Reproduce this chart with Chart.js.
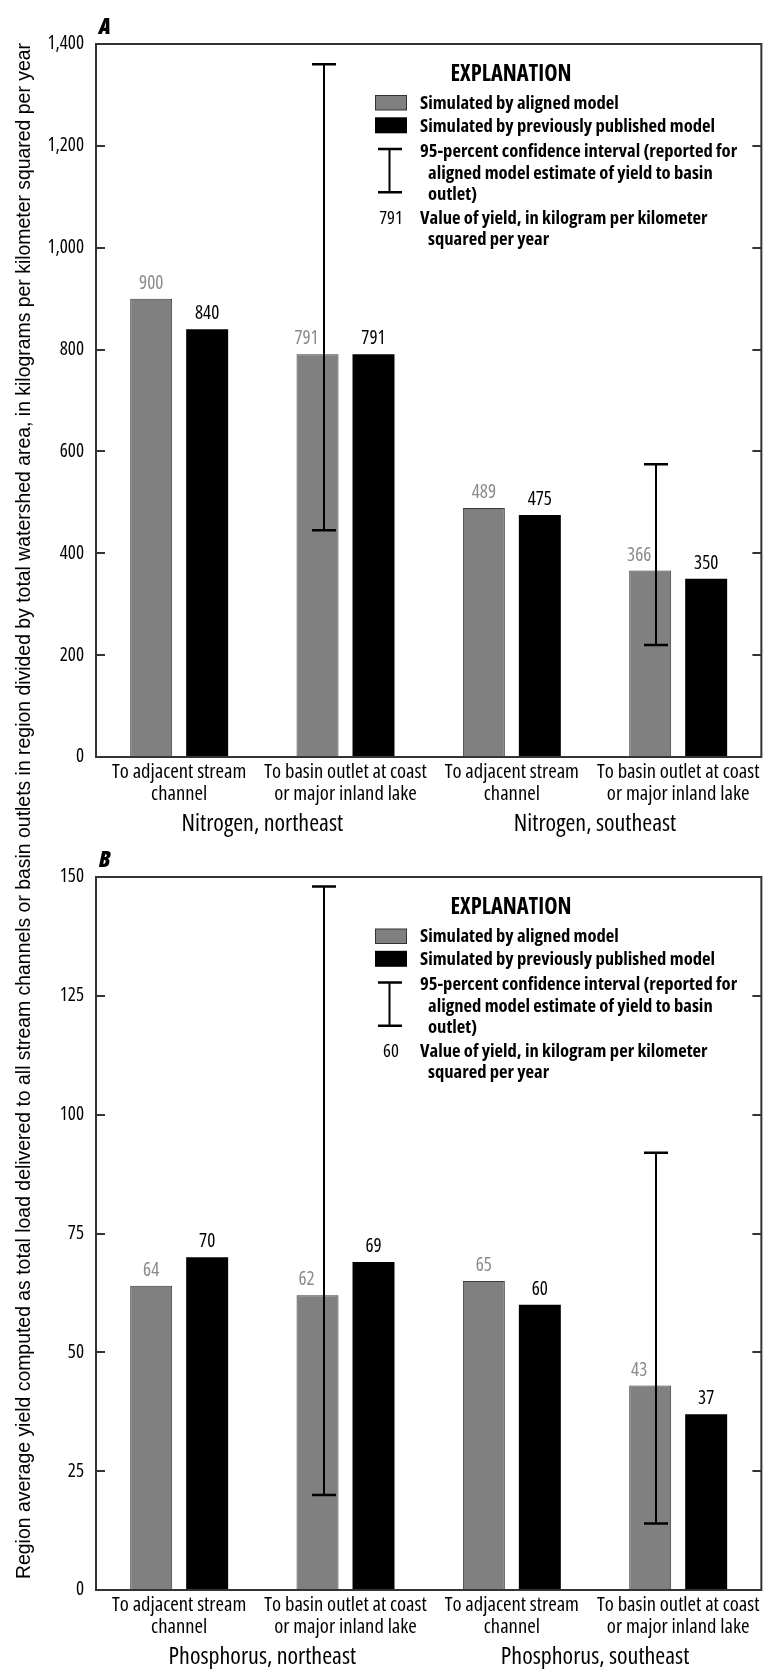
<!DOCTYPE html>
<html><head><meta charset="utf-8">
<script src="https://cdn.jsdelivr.net/npm/chart.js@4.4.1/dist/chart.umd.min.js"></script>
<style>
html,body{margin:0;padding:0;background:#fff;width:764px;height:1669px;overflow:hidden;}
body{position:relative;}
.panel{position:absolute;left:0;width:764px;height:840px;}
#panelA{top:0;}
#panelB{top:833px;}
canvas{display:block;}
#overlay{position:absolute;left:0;top:0;width:764px;height:1669px;pointer-events:none;}
#overlay text{font-family:'Open Sans',sans-serif;font-stretch:condensed;}
#overlay .title{font-family:'Liberation Sans',Arial,sans-serif;font-stretch:normal;}
</style></head>
<body>
<div class="panel" id="panelA"><canvas id="chartA" width="764" height="840"></canvas></div>
<div class="panel" id="panelB"><canvas id="chartB" width="764" height="840"></canvas></div>
<svg id="overlay" xmlns="http://www.w3.org/2000/svg" width="764" height="1669"></svg>
<script>
// ---- data ----
const categoryLabels = [
  ['To adjacent stream', 'channel'],
  ['To basin outlet at coast', 'or major inland lake'],
  ['To adjacent stream', 'channel'],
  ['To basin outlet at coast', 'or major inland lake']
];
const nitrogenGroups = ['Nitrogen, northeast', 'Nitrogen, southeast'];
const phosphorusGroups = ['Phosphorus, northeast', 'Phosphorus, southeast'];

const nitrogenAligned   = [900, 791, 489, 366];
const nitrogenPublished = [840, 791, 475, 350];
const nitrogenLower     = [null, 445, null, 220];
const nitrogenUpper     = [null, 1360, null, 575];
const nitrogenTicks     = [0, 200, 400, 600, 800, 1000, 1200, 1400];

const phosphorusAligned   = [64, 62, 65, 43];
const phosphorusPublished = [70, 69, 60, 37];
const phosphorusLower     = [null, 20, null, 14];
const phosphorusUpper     = [null, 148, null, 92];
const phosphorusTicks     = [0, 25, 50, 75, 100, 125, 150];

const legendEntries = [
  'Simulated by aligned model',
  'Simulated by previously published model',
  ['95-percent confidence interval (reported for', 'aligned model estimate of yield to basin', 'outlet)'],
  ['Value of yield, in kilogram per kilometer', 'squared per year']
];
const yTitle = 'Region average yield computed as total load delivered to all stream channels or basin outlets in region divided by total watershed area, in kilograms per kilometer squared per year';

// ---- styling ----
const FAMILY = "'Open Sans', sans-serif";
const COND = 'condensed 400';
const GRAY = '#808080';
const FRAME = '#333333';

// frame around the plot area with inward tick marks on both sides
const framePlugin = {
  id: 'frame',
  afterDraw(chart) {
    const {ctx, chartArea: a} = chart;
    const y = chart.scales.y;
    ctx.save();
    ctx.strokeStyle = FRAME;
    ctx.lineWidth = 2;
    ctx.strokeRect(a.left, a.top, a.right - a.left, a.bottom - a.top);
    ctx.beginPath();
    y.ticks.forEach(t => {
      if (t.value === y.min || t.value === y.max) return;
      const py = Math.round(y.getPixelForValue(t.value));
      ctx.moveTo(a.left, py); ctx.lineTo(a.left + 9, py);
      ctx.moveTo(a.right - 9, py); ctx.lineTo(a.right, py);
    });
    ctx.stroke();
    ctx.restore();
  }
};

// confidence intervals on the aligned-model bars
const errorBarPlugin = {
  id: 'errorBars',
  afterDatasetsDraw(chart, args, opts) {
    const {ctx} = chart;
    const y = chart.scales.y;
    const meta = chart.getDatasetMeta(0);
    ctx.save();
    ctx.strokeStyle = '#000';
    opts.lower.forEach((lo, i) => {
      const hi = opts.upper[i];
      if (lo == null || hi == null) return;
      const x = Math.round(meta.data[i].x + 6);
      const y1 = y.getPixelForValue(hi), y2 = y.getPixelForValue(lo);
      ctx.lineWidth = 2;
      ctx.beginPath(); ctx.moveTo(x, y1); ctx.lineTo(x, y2); ctx.stroke();
      ctx.lineWidth = 2.5;
      ctx.beginPath();
      ctx.moveTo(x - 12, y1); ctx.lineTo(x + 12, y1);
      ctx.moveTo(x - 12, y2); ctx.lineTo(x + 12, y2);
      ctx.stroke();
    });
    ctx.restore();
  }
};

// value labels above the bars
const valueLabelPlugin = {
  id: 'valueLabels',
  afterDatasetsDraw(chart, args, opts) {
    const {ctx} = chart;
    ctx.save();
    ctx.font = COND + ' 19px ' + FAMILY;
    ctx.textAlign = 'center';
    ctx.textBaseline = 'middle';
    chart.data.datasets.forEach((ds, di) => {
      const meta = chart.getDatasetMeta(di);
      ctx.fillStyle = di === 0 ? '#8a8a8a' : '#000';
      ds.data.forEach((v, i) => {
        const bar = meta.data[i];
        const shift = (di === 0 && opts.lower[i] != null) ? -11 : 0;
        ctx.fillText(String(v), bar.x + shift, bar.y - 15.5);
      });
    });
    ctx.restore();
  }
};

function makeChart(id, aligned, published, lower, upper, ticks, groups) {
  return new Chart(document.getElementById(id), {
    type: 'bar',
    data: {
      labels: categoryLabels,
      datasets: [
        {label: legendEntries[0], data: aligned, backgroundColor: GRAY, borderColor: '#3a3a3a',
         borderWidth: {top: 1, left: 1, right: 1, bottom: 0}, borderSkipped: false},
        {label: legendEntries[1], data: published, backgroundColor: '#000', borderWidth: 0}
      ]
    },
    options: {
      responsive: false,
      animation: false,
      devicePixelRatio: 1,
      categoryPercentage: 0.673,
      barPercentage: 0.75,
      layout: {padding: {top: 44, right: 1, left: 0, bottom: 0}},
      plugins: {
        legend: {display: false},
        tooltip: {enabled: false},
        errorBars: {lower, upper},
        valueLabels: {lower}
      },
      scales: {
        x: {
          type: 'category',
          weight: 0,
          grid: {display: false, drawTicks: false},
          border: {display: false},
          ticks: {color: '#000', padding: 4.5, maxRotation: 0, autoSkip: false,
                  font: {family: FAMILY, weight: COND, size: 20.6, lineHeight: 1.07}},
          afterFit(s) { s.height = 50; }
        },
        x2: {
          type: 'category',
          labels: groups,
          position: 'bottom',
          weight: 1,
          grid: {display: false, drawTicks: false},
          border: {display: false},
          ticks: {color: '#000', padding: 2.6, maxRotation: 0, autoSkip: false,
                  font: {family: FAMILY, weight: COND, size: 24, lineHeight: 1.2}},
          afterFit(s) { s.height = 33; }
        },
        y: {
          min: ticks[0],
          max: ticks[ticks.length - 1],
          grid: {display: false, drawTicks: false},
          border: {display: false},
          afterBuildTicks(s) { s.ticks = ticks.map(v => ({value: v})); },
          ticks: {color: '#000', padding: 12,
                  font: {family: FAMILY, weight: COND, size: 19},
                  callback: v => v.toLocaleString('en-US')},
          afterFit(s) { s.width = 96; }
        }
      }
    },
    plugins: [errorBarPlugin, valueLabelPlugin, framePlugin]
  });
}

makeChart('chartA', nitrogenAligned, nitrogenPublished, nitrogenLower, nitrogenUpper, nitrogenTicks, nitrogenGroups);
makeChart('chartB', phosphorusAligned, phosphorusPublished, phosphorusLower, phosphorusUpper, phosphorusTicks, phosphorusGroups);

// ---- shared axis title, panel letters and explanation boxes ----
const NS = 'http://www.w3.org/2000/svg';
const svg = document.getElementById('overlay');
function el(name, attrs, text) {
  const e = document.createElementNS(NS, name);
  for (const k in attrs) e.setAttribute(k, attrs[k]);
  if (text != null) e.textContent = text;
  svg.appendChild(e);
  return e;
}

el('text', {class: 'title', x: 0, y: 0, 'font-size': 19.5, 'text-anchor': 'middle',
  textLength: 1536, lengthAdjust: 'spacingAndGlyphs', fill: '#000',
  transform: 'translate(29.5,811) rotate(-90)'}, yTitle);

function panelLetter(letter, baseline) {
  el('text', {x: 99, y: baseline, 'font-size': 22, 'font-weight': 800, 'font-style': 'italic', fill: '#000'}, letter);
}
panelLetter('A', 33.5);
panelLetter('B', 867);

function legend(dy, sample) {
  const b = v => v + dy;
  const fs = 18.6;
  const t = {'font-size': fs, 'font-weight': 700, fill: '#000'};
  el('text', {x: 511, y: b(80.8), 'text-anchor': 'middle', 'font-size': 22.5, 'font-weight': 700, fill: '#000'}, 'EXPLANATION');
  el('rect', {x: 375.5, y: b(95.5), width: 31, height: 14.5, fill: GRAY, stroke: '#333', 'stroke-width': 1});
  el('rect', {x: 375, y: b(117.3), width: 32, height: 16, fill: '#000'});
  el('text', Object.assign({x: 420, y: b(108.6)}, t), legendEntries[0]);
  el('text', Object.assign({x: 420, y: b(131.9)}, t), legendEntries[1]);
  el('text', Object.assign({x: 420, y: b(156.6)}, t), legendEntries[2][0]);
  el('text', Object.assign({x: 428, y: b(178.6)}, t), legendEntries[2][1]);
  el('text', Object.assign({x: 428, y: b(199.6)}, t), legendEntries[2][2]);
  el('text', Object.assign({x: 420, y: b(223.6)}, t), legendEntries[3][0]);
  el('text', Object.assign({x: 428, y: b(244.6)}, t), legendEntries[3][1]);
  el('text', {x: 391, y: b(223.6), 'font-size': 18.6, 'text-anchor': 'middle', fill: '#000'}, sample);
  el('path', {d: `M389.5 ${b(149)} V${b(192.3)}`, stroke: '#000', 'stroke-width': 2, fill: 'none'});
  el('path', {d: `M378 ${b(149)} H402 M378 ${b(192.3)} H402`, stroke: '#000', 'stroke-width': 2.5, fill: 'none'});
}
legend(0, '791');
legend(833.5, '60');
</script>
</body></html>
